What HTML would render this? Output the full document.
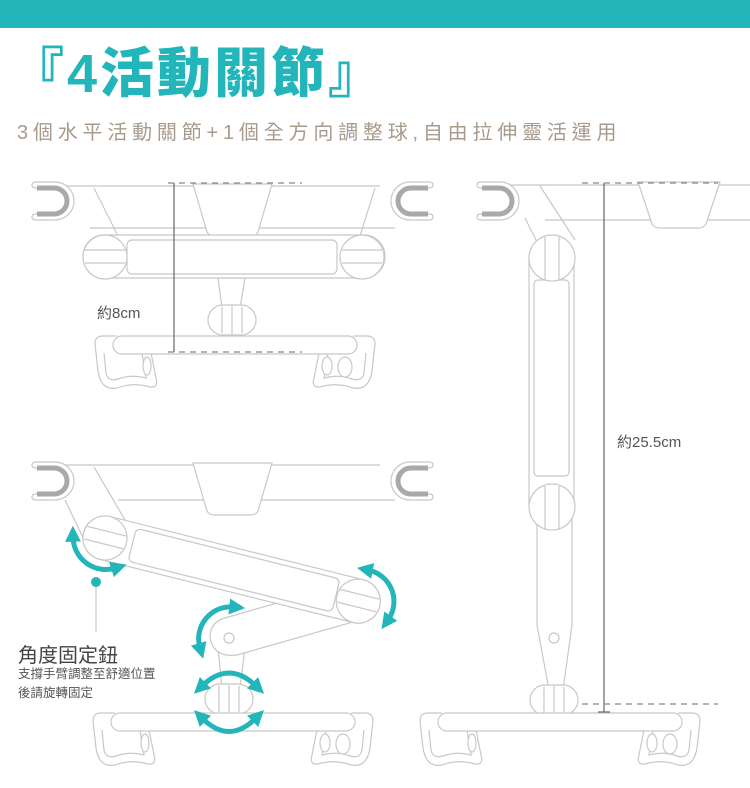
<!DOCTYPE html>
<html><head><meta charset="utf-8"><style>
html,body{margin:0;padding:0;background:#fff;}
body{width:750px;height:788px;overflow:hidden;position:relative;font-family:"Liberation Sans","Noto Sans CJK TC",sans-serif;}
.bar{position:absolute;left:0;top:0;width:750px;height:28px;background:#22b5b9;}
.title{position:absolute;left:10px;top:42px;font-size:54px;font-weight:900;color:#22b5b9;letter-spacing:3px;line-height:64px;white-space:nowrap;font-family:"Liberation Sans","Noto Sans CJK TC",sans-serif;}
.sub{position:absolute;left:17px;top:119px;font-size:20px;color:#a89a8c;letter-spacing:4.8px;white-space:nowrap;line-height:28px;}
svg{position:absolute;left:0;top:0;}
</style></head><body>
<div class="bar"></div>
<div class="title">『4活動關節』</div>
<div class="sub">3個水平活動關節+1個全方向調整球,自由拉伸靈活運用</div>
<svg width="750" height="788" viewBox="0 0 750 788" xmlns="http://www.w3.org/2000/svg">
<defs>
<marker id="ah" viewBox="0 0 10 10" refX="3" refY="5" markerWidth="3.2" markerHeight="3.2" orient="auto-start-reverse"><path d="M0,0 L10,5 L0,10 z" fill="#22b5b9"/></marker>
<g id="base" fill="#fff" stroke="#c8c8c8" stroke-width="1.2">
 <path d="M22,0 L8,0 Q0,0 0,8 L3,35 Q6,55 22,52 Q38,46 55,51 Q64,52 61,42 L56,17"/>
 <path d="M9,17 L11,37 Q13,46 23,43 Q37,38 51,42 L47,17"/>
 <path d="M258,0 L272,0 Q280,0 280,8 L277,35 Q274,55 258,52 Q242,46 225,51 Q216,52 219,42 L224,17"/>
 <path d="M271,17 L269,37 Q267,46 257,43 Q243,38 229,42 L233,17"/>
 <ellipse cx="232" cy="30" rx="5" ry="9"/><ellipse cx="250" cy="31" rx="7" ry="10"/>
 <ellipse cx="52" cy="30" rx="4" ry="9"/>
 <rect x="18" y="0" width="244" height="18" rx="9"/>
</g>
<g id="hookL">
 <path d="M36,2 L55,2 A19,19 0 0 1 55,40 L36,40 Q32,40 32,37 Q32,34 36,34 L54,34 A13,13 0 0 0 54,8 L36,8 Q32,8 32,5 Q32,2 36,2 Z" fill="#fff" stroke="#c8c8c8" stroke-width="1.2"/>
 <path d="M37,8 L54,8 A13,13 0 0 1 54,34 L37,34" fill="none" stroke="#a9a9a9" stroke-width="5"/>
</g>
<g id="knob" fill="#fff" stroke="#c8c8c8" stroke-width="1.2">
 <rect x="0" y="0" width="48" height="30" rx="15"/>
 <line x1="14" y1="2" x2="14" y2="28"/><line x1="24" y1="1" x2="24" y2="29"/><line x1="34" y1="2" x2="34" y2="28"/>
</g>
</defs>

<g fill="none" stroke="#c8c8c8" stroke-width="1.2">
<path d="M60,186 L380,186 M90,228 L395,228"/>
<path d="M193,184 L272,184 L258,232 Q256,236 250,236 L215,236 Q209,236 207,232 Z" fill="#fff"/>
<path d="M94,188 L118,236 M375,188 L360,236"/>
<path d="M218,278 L245,278 L240,308 L222,308 Z" fill="#fff"/>
<rect x="83" y="235" width="302" height="43" rx="21" fill="#fff"/>
<rect x="127" y="240" width="210" height="34" rx="5"/>
<circle cx="105" cy="257" r="22" fill="#fff"/><path d="M85,250 L125,250 M85,263 L125,263"/>
<circle cx="362" cy="257" r="22" fill="#fff"/><path d="M342,250 L382,250 M342,263 L382,263"/>
<use href="#knob" x="208" y="305"/>
<use href="#base" x="95" y="336"/>
</g>
<use href="#hookL" x="0" y="180"/>
<use href="#hookL" transform="translate(465,180) scale(-1,1)"/>
<g stroke="#666" stroke-width="1.2"><line x1="174" y1="183" x2="174" y2="352"/></g>
<g stroke="#888" stroke-width="1.2" stroke-dasharray="6,5"><line x1="168" y1="183" x2="302" y2="183"/><line x1="168" y1="352" x2="302" y2="352"/></g>
<text x="97" y="318" font-size="15" fill="#555" font-family="Liberation Sans,Noto Sans CJK TC,sans-serif">約8cm</text>

<g fill="none" stroke="#c8c8c8" stroke-width="1.2">
<path d="M510,185 L750,185 M545,220 L750,220"/>
<path d="M638,182 L720,182 L706,224 Q704,228 698,228 L660,228 Q654,228 652,224 Z" fill="#fff"/>
<path d="M540,186 L575,240 M525,218 L540,248"/>
<path d="M537,515 L572,515 L572,625 L563,690 L549,690 L537,625 Z" fill="#fff"/>
<circle cx="554" cy="638" r="5"/>
<rect x="529" y="236" width="45" height="290" rx="22" fill="#fff"/>
<rect x="534" y="280" width="35" height="196" rx="4"/>
<circle cx="552" cy="258" r="23" fill="#fff"/><path d="M545,237 L545,280 M559,237 L559,280"/>
<circle cx="552" cy="507" r="23" fill="#fff"/><path d="M545,486 L545,529 M559,486 L559,529"/>
<use href="#knob" x="530" y="685"/>
<use href="#base" x="420" y="713"/>
</g>
<use href="#hookL" x="445" y="180"/>
<g stroke="#666" stroke-width="1.2"><line x1="604" y1="183" x2="604" y2="712"/><line x1="598" y1="712" x2="610" y2="712"/></g>
<g stroke="#888" stroke-width="1.2" stroke-dasharray="6,5"><line x1="582" y1="183" x2="718" y2="183"/><line x1="582" y1="704" x2="718" y2="704"/></g>
<text x="617" y="447" font-size="15" fill="#555" font-family="Liberation Sans,Noto Sans CJK TC,sans-serif">約25.5cm</text>

<g fill="none" stroke="#c8c8c8" stroke-width="1.2">
<path d="M60,465 L380,465 M118,500 L395,500"/>
<path d="M193,463 L272,463 L258,511 Q256,515 250,515 L215,515 Q209,515 207,511 Z" fill="#fff"/>
<path d="M94,467 L125,520 M65,500 L88,548"/>
<path d="M218,648 L245,648 L240,688 L222,688 Z" fill="#fff"/>
<path d="M225,618 L350,582 L360,620 L237,655 Q214,658 210,638 Q210,622 225,618 Z" fill="#fff"/>
<circle cx="229" cy="638" r="5"/>
<g transform="translate(105,538) rotate(14)">
 <rect x="-22" y="-22" width="305" height="44" rx="22" fill="#fff"/>
 <rect x="28" y="-17" width="210" height="34" rx="5"/>
 <circle cx="0" cy="0" r="22" fill="#fff"/><path d="M-20,-7 L20,-7 M-20,6 L20,6"/>
 <circle cx="261" cy="0" r="22" fill="#fff"/><path d="M241,-7 L281,-7 M241,6 L281,6"/>
</g>
<use href="#knob" x="205" y="684"/>
<use href="#base" x="93" y="713"/>
<line x1="96" y1="585" x2="96" y2="632"/>
</g>
<use href="#hookL" x="0" y="460"/>
<use href="#hookL" transform="translate(465,460) scale(-1,1)"/>
<g fill="none" stroke="#22b5b9" stroke-width="5" marker-start="url(#ah)" marker-end="url(#ah)">
 <path d="M73,537 A33,33 0 0 0 116,568"/>
 <path d="M368,570 A32,32 0 0 1 388,620"/>
 <path d="M234,607 A32,32 0 0 0 200,648"/>
 <path d="M202,686 Q229,660 256,686"/>
 <path d="M202,718 Q229,745 256,718"/>
</g>
<circle cx="96" cy="582" r="5" fill="#22b5b9"/>
<text x="18" y="662" font-size="20" fill="#444" font-family="Liberation Sans,Noto Sans CJK TC,sans-serif">角度固定鈕</text>
<text x="18" y="678" font-size="12.5" fill="#555" font-family="Liberation Sans,Noto Sans CJK TC,sans-serif">支撐手臂調整至舒適位置</text>
<text x="18" y="697" font-size="12.5" fill="#555" font-family="Liberation Sans,Noto Sans CJK TC,sans-serif">後請旋轉固定</text>
</svg>
</body></html>
